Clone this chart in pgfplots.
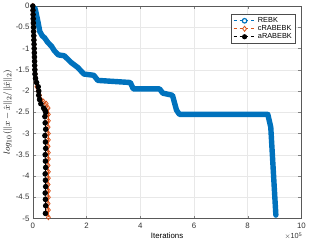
\documentclass[border=0pt]{standalone}
\usepackage{pgfplots}
\pgfplotsset{compat=1.18}
\usepackage{fontspec}
\setmainfont{Liberation Sans}
\definecolor{mblue}{rgb}{0,0.447,0.741}
\definecolor{morange}{rgb}{0.85,0.325,0.098}
\begin{document}
\begin{tikzpicture}[x=1bp,y=1bp]
\begin{axis}[
  name=ax,
  scale only axis, width=273bp, height=216bp,
  xmin=0, xmax=10, ymin=-5, ymax=0,
  xtick={0,2,4,6,8,10}, xticklabels={0,2,4,6,8,10},
  ytick={-5,-4.5,-4,-3.5,-3,-2.5,-2,-1.5,-1,-0.5,0},
  yticklabels={-5,-4.5,-4,-3.5,-3,-2.5,-2,-1.5,-1,-0.5,0},
  tick label style={font=\fontsize{8}{9}\selectfont, color=black!80},
  xticklabel style={yshift=-1bp},
  xlabel style={font=\fontsize{8}{9}\selectfont, yshift=2bp},
  ylabel style={font=\fontsize{9.5}{10}\selectfont, yshift=-3bp},
  tick align=inside, tick pos=both, major tick length=3bp,
  grid=major, grid style={gray!18, line width=0.4pt},
  axis line style={black!65, line width=0.4pt},
  xlabel={Iterations},
  ylabel={$log_{10}(\|x-\hat{x}\|_2/\|\hat{x}\|_2)$},
  legend style={at={(rel axis cs:0.978,0.963)}, anchor=north east,
    font=\fontsize{7.5}{8.5}\selectfont, draw=black!70, line width=0.4pt,
    inner sep=1.5pt, row sep=-2.5pt, cells={anchor=west}},
  legend cell align=left,
  legend image code/.code={\draw[#1] (0bp,0bp) -- (22bp,0bp); \draw[#1, solid] plot coordinates {(11bp,0bp)};},
  clip=true,
]
% REBK
\addplot[mblue, line width=5.5bp, line join=round, line cap=round, forget plot] coordinates {
(0.05,0) (0.1,-0.1) (0.2,-0.4) (0.26,-0.6) (0.35,-0.7) (0.44,-0.75) (0.55,-0.85)
(0.7,-0.95) (0.8,-1.05) (0.95,-1.15) (1.17,-1.17) (1.3,-1.25) (1.43,-1.33)
(1.68,-1.45) (1.9,-1.6) (2.27,-1.63) (2.42,-1.75) (3.63,-1.8) (3.74,-1.95)
(4.72,-1.95) (4.84,-2.05) (5.2,-2.1) (5.35,-2.45) (5.46,-2.55) (8.75,-2.55)
(8.86,-2.85) (9.05,-4.92)};
% cRABEBK
\addplot[morange, line width=0.8pt, mark=diamond, mark size=2.6bp, mark options={solid, line width=0.8pt}, forget plot] coordinates {
(0.0,0) (0.01,-0.1) (0.015,-0.2) (0.02,-0.3) (0.025,-0.4) (0.03,-0.5) (0.035,-0.6)
(0.04,-0.7) (0.045,-0.8) (0.05,-0.9) (0.055,-1.0) (0.06,-1.1) (0.065,-1.2)
(0.07,-1.3) (0.075,-1.4) (0.08,-1.5) (0.09,-1.6) (0.1,-1.7) (0.12,-1.8)
(0.15,-1.9) (0.2,-2.0) (0.25,-2.1) (0.3,-2.2) (0.4,-2.25) (0.5,-2.3) (0.57,-2.4)
(0.58,-2.55) (0.58,-2.7) (0.57,-2.85) (0.58,-3.0) (0.58,-3.15) (0.57,-3.3)
(0.58,-3.45) (0.58,-3.6) (0.57,-3.75) (0.58,-3.9) (0.58,-4.05) (0.57,-4.2)
(0.58,-4.35) (0.58,-4.5) (0.57,-4.65) (0.58,-4.8) (0.58,-4.97)};
% aRABEBK
\addplot[black, line width=0.8pt, mark=*, mark size=2.4bp, mark options={solid}, forget plot] coordinates {
(0.0,0) (0.005,-0.1) (0.01,-0.2) (0.015,-0.3) (0.02,-0.4) (0.025,-0.5) (0.03,-0.6)
(0.035,-0.7) (0.04,-0.8) (0.045,-0.9) (0.05,-1.0) (0.055,-1.1) (0.06,-1.2)
(0.065,-1.3) (0.07,-1.4) (0.075,-1.5) (0.08,-1.6) (0.1,-1.7) (0.14,-1.8)
(0.2,-1.9) (0.22,-2.0) (0.22,-2.1) (0.25,-2.2) (0.3,-2.3) (0.4,-2.4) (0.45,-2.45)
(0.48,-2.5) (0.45,-2.6) (0.46,-2.75) (0.48,-2.9) (0.45,-3.05) (0.47,-3.2)
(0.48,-3.35) (0.46,-3.5) (0.47,-3.65) (0.48,-3.8) (0.46,-3.95) (0.47,-4.1)
(0.48,-4.25) (0.46,-4.4) (0.47,-4.55) (0.48,-4.7) (0.47,-4.88)};
\addlegendimage{mblue, dashed, line width=1.2pt, mark=o, mark size=2.3bp, mark options={solid, line width=1.2pt}}
\addlegendentry{REBK}
\addlegendimage{morange, dashed, line width=0.8pt, mark=diamond, mark size=2.6bp, mark options={solid}}
\addlegendentry{cRABEBK}
\addlegendimage{black, dashed, line width=0.8pt, mark=*, mark size=2.2bp, mark options={solid}}
\addlegendentry{aRABEBK}
\end{axis}
\node[anchor=north east, font=\fontsize{7.5}{8.5}\selectfont, inner sep=0pt, text=black!80] at ([yshift=-14bp, xshift=1bp]ax.south east) {$\times$10\textsuperscript{5}};
\end{tikzpicture}
\end{document}
